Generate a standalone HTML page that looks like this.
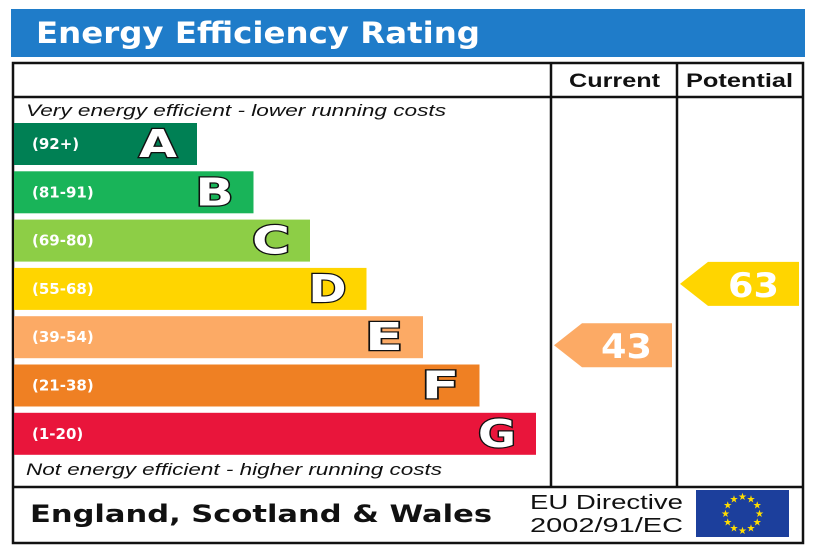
<!DOCTYPE html>
<html><head><meta charset="utf-8"><style>
html,body{margin:0;padding:0;background:#fff;}
svg{display:block;font-family:"DejaVu Sans","Liberation Sans",sans-serif;}
</style></head><body>
<svg id="chart" width="820" height="547" viewBox="0 0 820 547">
<rect x="11" y="9" width="794" height="48" fill="#1f7cc9"/>
<text x="36" y="43" fill="#fff" font-size="29" font-weight="bold" textLength="444" lengthAdjust="spacingAndGlyphs">Energy Efficiency Rating</text>
<rect x="13" y="63" width="790" height="480" fill="none" stroke="#111" stroke-width="2.5"/>
<line x1="13" y1="97" x2="803" y2="97" stroke="#111" stroke-width="2.5"/>
<line x1="13" y1="487" x2="803" y2="487" stroke="#111" stroke-width="2.5"/>
<line x1="551" y1="63" x2="551" y2="487" stroke="#111" stroke-width="2.5"/>
<line x1="677" y1="63" x2="677" y2="487" stroke="#111" stroke-width="2.5"/>
<text x="569" y="87" font-size="19" font-weight="bold" fill="#111" font-family="Liberation Sans" textLength="91" lengthAdjust="spacingAndGlyphs">Current</text>
<text x="686" y="87" font-size="19" font-weight="bold" fill="#111" font-family="Liberation Sans" textLength="107" lengthAdjust="spacingAndGlyphs">Potential</text>
<text x="26" y="116" font-size="17" font-style="italic" fill="#111" font-family="Liberation Sans" textLength="420" lengthAdjust="spacingAndGlyphs">Very energy efficient - lower running costs</text>
<text x="26" y="475" font-size="17" font-style="italic" fill="#111" font-family="Liberation Sans" textLength="416" lengthAdjust="spacingAndGlyphs">Not energy efficient - higher running costs</text>
<g id="bands"></g>
<g id="arrows"></g>
<text x="30" y="522" font-size="24" font-weight="bold" fill="#111" textLength="462" lengthAdjust="spacingAndGlyphs">England, Scotland &amp; Wales</text>
<text x="530" y="509" font-size="20" fill="#111" font-family="Liberation Sans" textLength="153" lengthAdjust="spacingAndGlyphs">EU Directive</text>
<text x="530" y="532" font-size="20" fill="#111" font-family="Liberation Sans" textLength="153" lengthAdjust="spacingAndGlyphs">2002/91/EC</text>
<rect x="696" y="490" width="93" height="47" fill="#1c3f9c"/>
<g id="stars"></g>
</svg>
<script>
var bandLetters=["A","B","C","D","E","F","G"];
var bandRanges=["(92+)","(81-91)","(69-80)","(55-68)","(39-54)","(21-38)","(1-20)"];
var bandMins=[92,81,69,55,39,21,1];
var bandColors=["#008054","#19b459","#8dce46","#ffd500","#fcaa65","#ef8023","#e9153b"];
var currentRating=[43];
var potentialRating=[63];
var NS="http://www.w3.org/2000/svg";
function mk(t,a,p){var e=document.createElementNS(NS,t);for(var k in a)e.setAttribute(k,a[k]);p.appendChild(e);return e;}
var bandTop=123,bandStep=48.3,bandH=42,barX=14,barW0=183,barWStep=56.5;
function bandIndex(v){for(var i=0;i<bandMins.length;i++)if(v>=bandMins[i])return i;return bandMins.length-1;}
var bg=document.getElementById('bands');
bandLetters.forEach(function(L,i){
 var y=bandTop+i*bandStep,w=barW0+i*barWStep;
 var r=mk('rect',{x:barX,y:y,width:w,height:bandH,fill:bandColors[i]},bg);
 
 
 var t=mk('text',{x:32,y:y+26,'font-size':15,'font-weight':'bold',fill:'#fff'},bg);t.textContent=bandRanges[i];
 
 
 var l=mk('text',{x:barX+w-58,y:y+34,'font-size':38,'font-weight':'bold',fill:'#fff',stroke:'#111','stroke-width':2.4,'paint-order':'stroke',textLength:38,lengthAdjust:'spacingAndGlyphs'},bg);l.textContent=L;
 
 
});
var ag=document.getElementById('arrows');
function arrow(v,x0,x1,name,dy){
 var i=bandIndex(v),y=bandTop+i*bandStep+dy,h=44,tip=x0+28;
 var p=mk('polygon',{points:x0+','+(y+h/2)+' '+tip+','+y+' '+x1+','+y+' '+x1+','+(y+h)+' '+tip+','+(y+h),fill:bandColors[i]},ag);
 
 
 var t=mk('text',{x:x1-71,y:y+35,'font-size':34,'font-weight':'bold',fill:'#fff',textLength:51,lengthAdjust:'spacingAndGlyphs'},ag);t.textContent=v;
 
 
}
arrow(currentRating[0],554,672,'current-rating',7);
arrow(potentialRating[0],680,799,'potential-rating',-6);
var sg=document.getElementById('stars');
for(var k=0;k<12;k++){var a=k*Math.PI/6,cx=742.5+17*Math.sin(a),cy=513.5-17*Math.cos(a);
 var s=mk('text',{x:cx,y:cy+3.5,'text-anchor':'middle','font-size':10,fill:'#ffdd00'},sg);s.textContent='★';}
</script>
</body></html>
